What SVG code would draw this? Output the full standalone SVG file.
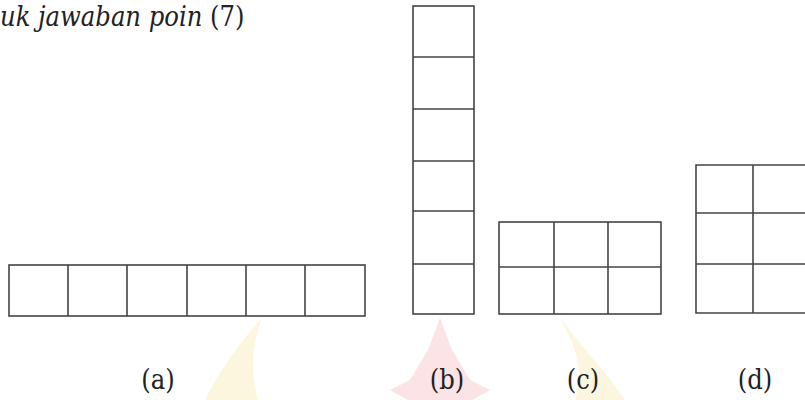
<svg xmlns="http://www.w3.org/2000/svg" width="805" height="400" viewBox="0 0 805 400">
<style>
.g{fill:none;stroke:#444;stroke-width:1.6}
.t{font-family:"DejaVu Serif Condensed","DejaVu Serif",serif;font-size:27px;fill:#222}
</style>
<rect width="805" height="400" fill="#fff"/>
<g id="watermark" opacity="0.16">
<path d="M205,400 C220,370 238,345 262,318 C252,345 250,370 258,400 Z" fill="#f5c830"/>
<path d="M440,318 L452,350 L470,380 L490,390 L472,400 L408,400 L390,390 L410,380 L428,350 Z" fill="#e8556a"/>
<path d="M560,318 C580,345 605,370 625,400 L575,400 C585,370 575,345 560,318 Z" fill="#f5c830"/>
</g>
<text class="t" x="0" y="26" font-size="28"><tspan font-style="italic">uk jawaban poin</tspan> (7)</text>
<g id="a">
<rect class="g" x="9" y="265" width="356" height="51"/>
<path class="g" d="M68,265V316M127,265V316M187,265V316M246,265V316M305,265V316"/>
<text class="t" x="158" y="389" text-anchor="middle">(a)</text>
</g>
<g id="b">
<rect class="g" x="413" y="6" width="61" height="308"/>
<path class="g" d="M413,57H474M413,109H474M413,161H474M413,211H474M413,264H474"/>
<text class="t" x="447" y="389" text-anchor="middle">(b)</text>
</g>
<g id="c">
<rect class="g" x="499" y="222" width="162" height="92"/>
<path class="g" d="M554,222V314M608,222V314M499,267H661"/>
<text class="t" x="583" y="389" text-anchor="middle">(c)</text>
</g>
<g id="d">
<path class="g" d="M810,165H696V313H810M753,165V313M696,213H810M696,264H810"/>
<text class="t" x="755" y="389" text-anchor="middle">(d)</text>
</g>
</svg>
